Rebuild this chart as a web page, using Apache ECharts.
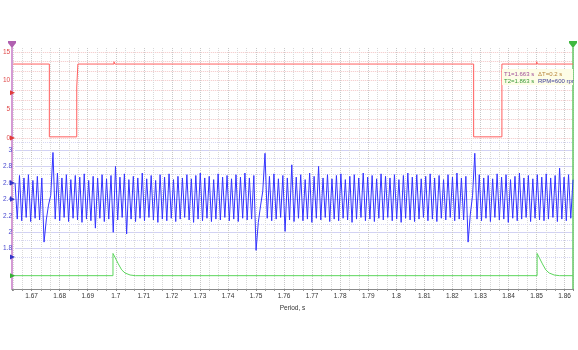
<!DOCTYPE html>
<html><head><meta charset="utf-8">
<script src="https://cdn.jsdelivr.net/npm/echarts@6/dist/echarts.min.js"></script>
<style>html,body{margin:0;padding:0;background:#fff}#c{width:578px;height:350px}</style>
</head><body><div id="c"></div>
<script>
// ---- data ----
const xMin = 1.663, xMax = 1.863;
const xTitle = 'Period, s';
const cursorText = ['T1=1.663 s', '\u0394T=0.2 s', 'T2=1.863 s', 'RPM=600 rpm'];

const redT = [1.663, 1.6759, 1.6759, 1.6857, 1.6857, 1.6861, 1.6861, 1.6990, 1.6990, 1.6993, 1.6993, 1.8275, 1.8275, 1.8376, 1.8376, 1.8500, 1.8500, 1.8503, 1.8503, 1.863];
const redV = [12.9, 12.9, 0.2, 0.2, 8.9, 8.9, 12.9, 12.9, 13.3, 13.3, 12.9, 12.9, 0.2, 0.2, 12.9, 12.9, 13.3, 13.3, 12.9, 12.9];

const blueStart = 1.663, blueStep = 0.0008;   // sample interval of the recording
const blueV = [
 2.60,2.16,2.69,2.14,2.66,2.18,2.70,2.13,2.63,2.17,
 2.68,2.15,2.66,1.88,2.15,2.33,2.45,2.97,2.16,2.72,
 2.14,2.66,2.18,2.70,2.13,2.64,2.17,2.69,2.15,2.67,
 2.12,2.71,2.16,2.63,2.14,2.68,2.05,2.66,2.17,2.70,
 2.13,2.65,2.16,2.69,2.00,2.80,2.15,2.67,2.18,2.71,
 1.98,2.64,2.16,2.68,2.13,2.66,2.17,2.72,2.14,2.65,
 2.18,2.69,2.15,2.63,2.12,2.70,2.16,2.67,2.14,2.71,
 2.17,2.64,2.13,2.68,2.16,2.66,2.18,2.70,2.15,2.65,
 2.12,2.69,2.16,2.72,2.14,2.66,2.17,2.68,2.13,2.64,
 2.16,2.71,2.15,2.67,2.18,2.69,2.14,2.65,2.16,2.70,
 2.13,2.67,2.17,2.72,2.15,2.66,2.16,2.69,1.78,2.12,
 2.32,2.50,2.96,2.17,2.68,2.14,2.71,2.16,2.65,2.18,
 2.69,2.01,2.66,2.15,2.82,2.13,2.67,2.17,2.70,2.14,
 2.64,2.16,2.72,2.12,2.68,2.17,2.80,2.15,2.66,2.18,
 2.70,2.13,2.65,2.16,2.69,2.14,2.71,2.17,2.64,2.15,
 2.68,2.12,2.70,2.16,2.66,2.18,2.72,2.14,2.67,2.16,
 2.69,2.13,2.65,2.17,2.71,2.15,2.68,2.18,2.66,2.14,
 2.70,2.16,2.64,2.12,2.69,2.17,2.72,2.15,2.67,2.13,
 2.70,2.16,2.65,2.18,2.68,2.14,2.71,2.16,2.66,2.13,
 2.69,2.17,2.64,2.15,2.70,2.18,2.67,2.14,2.72,2.16,
 2.66,2.15,2.68,1.88,2.22,2.45,2.96,2.16,2.70,2.14,
 2.66,2.17,2.69,2.13,2.65,2.18,2.71,2.15,2.67,2.16,
 2.70,2.12,2.64,2.17,2.68,2.14,2.72,2.16,2.66,2.18,
 2.69,2.13,2.65,2.17,2.70,2.15,2.67,2.14,2.71,2.16,
 2.66,2.18,2.69,2.13,2.78,2.16,2.67,2.14,2.70,2.17,
 2.64
];

const greenT = [1.663, 1.6990, 1.6990, 1.6997, 1.7009, 1.7021, 1.7033, 1.7051, 1.7070, 1.7735, 1.7740, 1.7745, 1.8502, 1.8502, 1.8509, 1.8521, 1.8533, 1.8545, 1.8563, 1.8582, 1.863];
const greenV = [0, 0, 1.0, 0.83, 0.53, 0.26, 0.12, 0.03, 0, 0, 0.05, 0, 0, 1.0, 0.83, 0.53, 0.26, 0.12, 0.03, 0, 0];

const redMarkers = [7.9, 0];
const blueMarkers = [2.6, 2.4, 1.7];
const greenMarkers = [0];

// ---- chart ----
const FONT = '"Liberation Sans", Arial, sans-serif';
const chart = echarts.init(document.getElementById('c'), null, {renderer: 'canvas'});
const hiddenX = gi => ({type: 'value', gridIndex: gi, min: xMin, max: xMax, show: false});
const pair = (ts, vs) => ts.map((t, i) => [t, vs[i]]);
const blueData = blueV.map((v, i) => [+(blueStart + i * blueStep).toFixed(5), v]);

const option = {
  animation: false,
  textStyle: {fontFamily: FONT},
  grid: [
    {left: 12, top: 48, width: 561, height: 241},
    {left: 12, top: 52, width: 561, height: 86},
    {left: 12, top: 133.55, width: 561, height: 131.6},
    {left: 12, top: 249, width: 561, height: 40}
  ],
  xAxis: [
    {type: 'value', gridIndex: 0, min: xMin, max: xMax, splitNumber: 20,
     name: xTitle, nameLocation: 'middle', nameGap: 15,
     nameTextStyle: {fontSize: 6.5, color: '#333', fontFamily: FONT},
     axisLine: {show: true, lineStyle: {color: '#d0d0d0'}},
     axisTick: {show: true, length: 2, lineStyle: {color: '#888'}},
     minorTick: {show: true, splitNumber: 3, length: 2, lineStyle: {color: '#999'}},
     axisLabel: {fontSize: 6.5, color: '#333', margin: 4, showMinLabel: false, showMaxLabel: false, fontFamily: FONT},
     splitLine: {show: true, lineStyle: {color: '#c8c8c8', type: 'dotted'}},
     minorSplitLine: {show: true, lineStyle: {color: '#d8d8d8', type: 'dotted'}}},
    {type: 'value', gridIndex: 0, position: 'top', min: xMin, max: xMax,
     axisLine: {show: true, lineStyle: {color: '#8a8a8a', width: 1}},
     axisTick: {show: false}, axisLabel: {show: false}, splitLine: {show: false}},
    hiddenX(1), hiddenX(2), hiddenX(3)
  ],
  yAxis: [
    {type: 'value', gridIndex: 0, min: 0, max: 1,
     axisLine: {show: true, lineStyle: {color: '#d49ad4', width: 2}},
     axisTick: {show: false}, axisLabel: {show: false}, splitLine: {show: false}},
    {type: 'value', gridIndex: 0, position: 'right', min: 0, max: 1,
     axisLine: {show: true, lineStyle: {color: '#66c866', width: 1.5}},
     axisTick: {show: false}, axisLabel: {show: false}, splitLine: {show: false}},
    {type: 'value', gridIndex: 1, min: 0, max: 15, interval: 5,
     axisLine: {show: false}, axisTick: {show: false},
     axisLabel: {fontSize: 6.5, color: '#e04848', margin: 3, fontFamily: FONT},
     splitLine: {show: true, lineStyle: {color: '#f3c4c4', type: 'dotted'}},
     minorTick: {show: false, splitNumber: 3},
     minorSplitLine: {show: true, lineStyle: {color: '#f3c4c4', type: 'dotted'}}},
    {type: 'value', gridIndex: 2, min: 1.6, max: 3.2, interval: 0.2,
     axisLine: {show: false}, axisTick: {show: false},
     axisLabel: {fontSize: 6.5, color: '#4848d0', margin: 3, fontFamily: FONT,
       showMinLabel: false, showMaxLabel: false,
       formatter: v => String(+(+v).toFixed(1))},
     splitLine: {show: true, showMinLine: false, showMaxLine: false, lineStyle: {color: '#d2d2f4', type: 'solid'}},
     minorTick: {show: false, splitNumber: 2},
     minorSplitLine: {show: true, lineStyle: {color: '#d6d6f4', type: 'dotted'}}},
    {type: 'value', gridIndex: 3, min: -0.6, max: 1.2, show: false}
  ],
  series: [
    {type: 'line', name: 'red', xAxisIndex: 2, yAxisIndex: 2, data: pair(redT, redV),
     symbol: 'none', lineStyle: {color: '#ff5e5e', width: 1}, clip: false, z: 3},
    {type: 'line', name: 'blue', xAxisIndex: 3, yAxisIndex: 3, data: blueData,
     symbol: 'none', lineStyle: {color: '#3333ff', width: 1}, clip: false, z: 3},
    {type: 'line', name: 'green', xAxisIndex: 4, yAxisIndex: 4, data: pair(greenT, greenV),
     symbol: 'none', lineStyle: {color: '#5cd65c', width: 1}, clip: false, z: 3}
  ]
};
chart.setOption(option);

// ---- decorations: cursor heads, level markers, readout box ----
const xl = chart.convertToPixel({xAxisIndex: 0}, xMin);
const xr = chart.convertToPixel({xAxisIndex: 0}, xMax);
const arrow = (y, color) => ({type: 'polygon', z: 20,
  shape: {points: [[xl - 2, y - 2.5], [xl + 3, y], [xl - 2, y + 2.5]]}, style: {fill: color}});
const head = (x, color) => ([
  {type: 'rect', z: 20, shape: {x: x - 4, y: 41, width: 8, height: 2}, style: {fill: color}},
  {type: 'polygon', z: 20, shape: {points: [[x - 4, 43], [x + 4, 43], [x, 48]]}, style: {fill: color}}
]);
const g = [];
redMarkers.forEach(v => g.push(arrow(chart.convertToPixel({yAxisIndex: 2}, v), '#e03c3c')));
blueMarkers.forEach(v => g.push(arrow(chart.convertToPixel({yAxisIndex: 3}, v), '#3434c8')));
greenMarkers.forEach(v => g.push(arrow(chart.convertToPixel({yAxisIndex: 4}, v), '#34b034')));
g.push(...head(xl, '#b060b0'), ...head(xr, '#40b840'));
const bx = 502, by = 69;
g.push({type: 'rect', z: 15, shape: {x: bx, y: by, width: xr - bx, height: 16}, style: {fill: '#fdfde6'}});
const ts = (x, y, text, color) => ({type: 'text', z: 16, x, y,
  style: {text, fill: color, font: '6px ' + FONT, textVerticalAlign: 'top'}});
g.push(ts(bx + 2, by + 2, cursorText[0], '#a0509a'));
g.push(ts(bx + 36, by + 2, cursorText[1], '#b8863b'));
g.push(ts(bx + 2, by + 9, cursorText[2], '#3a9a3a'));
g.push(ts(bx + 36, by + 9, cursorText[3], '#40409a'));
g.push({type: 'rect', z: 17, shape: {x: xr + 1, y: by - 2, width: 10, height: 20}, style: {fill: '#ffffff'}});
chart.setOption({graphic: g});
</script></body></html>
